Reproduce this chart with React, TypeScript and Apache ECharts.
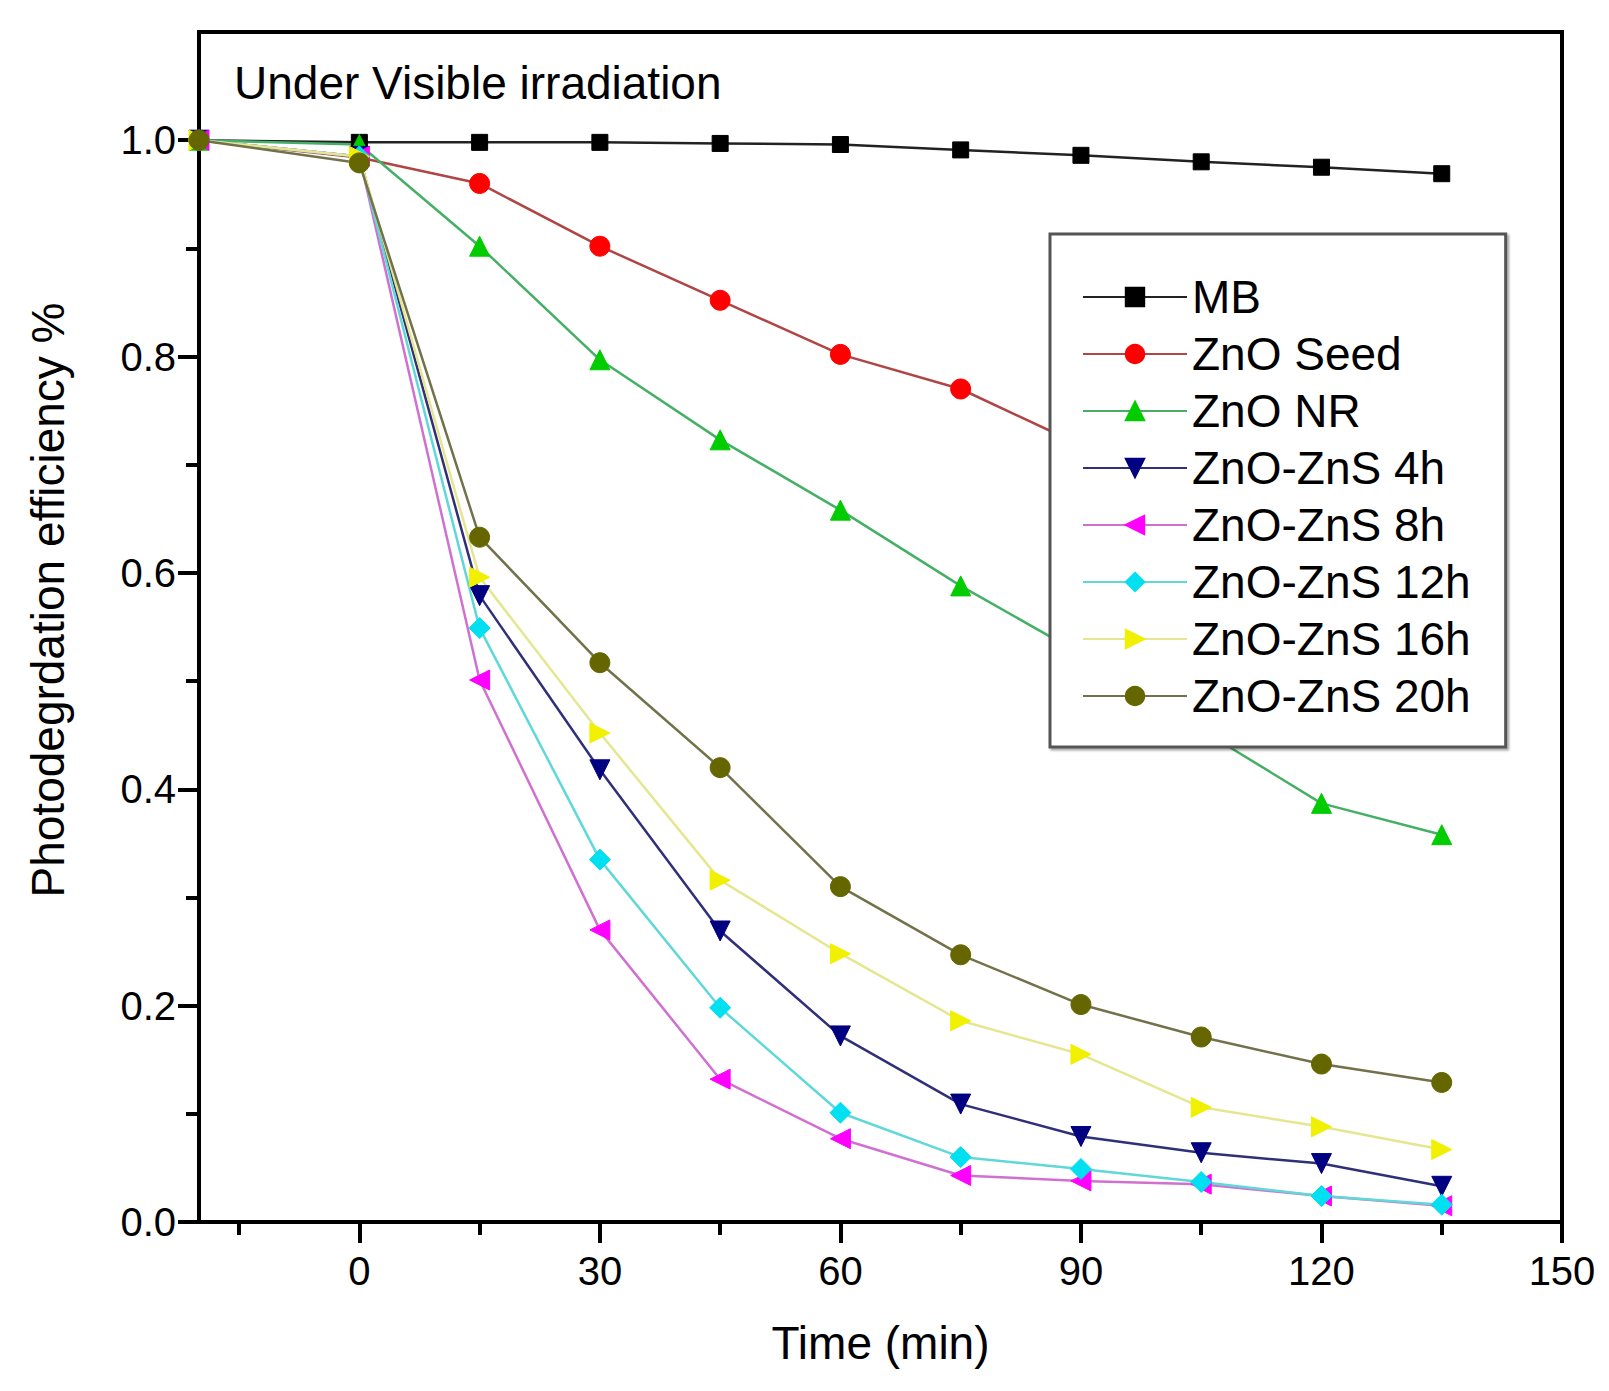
import React, { useEffect, useRef } from 'react';
import * as echarts from 'echarts';

const timeMin = [-20, 0, 15, 30, 45, 60, 75, 90, 105, 120, 135];

const mb = [1.0, 0.998, 0.998, 0.998, 0.997, 0.996, 0.991, 0.986, 0.98, 0.975, 0.969];
const znoSeed = [1.0, 0.984, 0.96, 0.902, 0.852, 0.802, 0.77, 0.718, 0.68, 0.645, 0.615];
const znoNR = [1.0, 0.996, 0.902, 0.797, 0.723, 0.658, 0.588, 0.525, 0.455, 0.387, 0.358];
const zns4h = [1.0, 0.985, 0.579, 0.418, 0.269, 0.172, 0.109, 0.079, 0.064, 0.054, 0.033];
const zns8h = [1.0, 0.985, 0.501, 0.27, 0.132, 0.077, 0.043, 0.038, 0.035, 0.024, 0.015];
const zns12h = [1.0, 0.985, 0.549, 0.335, 0.198, 0.101, 0.06, 0.049, 0.037, 0.024, 0.016];
const zns16h = [1.0, 0.985, 0.596, 0.452, 0.316, 0.248, 0.186, 0.155, 0.106, 0.088, 0.067];
const zns20h = [1.0, 0.979, 0.633, 0.517, 0.42, 0.31, 0.247, 0.201, 0.171, 0.146, 0.129];

const xMajorTicks = [0, 30, 60, 90, 120, 150];
const xMinorTicks = [-15, 15, 45, 75, 105, 135];
const yMajorTicks = [0, 0.2, 0.4, 0.6, 0.8, 1.0];
const yMinorTicks = [0.1, 0.3, 0.5, 0.7, 0.9];

const FONT = '"Liberation Sans", Arial, sans-serif';

const seriesDefs = [
  { name: 'MB', values: mb, symbol: 'rect', rotate: 0, size: 16, marker: '#000000', line: '#222222' },
  { name: 'ZnO Seed', values: znoSeed, symbol: 'circle', rotate: 0, size: 20, marker: '#ff0000', line: '#b04545' },
  { name: 'ZnO NR', values: znoNR, symbol: 'triangle', rotate: 0, size: 20, marker: '#00cc00', line: '#45b065' },
  { name: 'ZnO-ZnS 4h', values: zns4h, symbol: 'triangle', rotate: 180, size: 20, marker: '#000080', line: '#303078' },
  { name: 'ZnO-ZnS 8h', values: zns8h, symbol: 'triangle', rotate: 90, size: 20, marker: '#ff00ff', line: '#d070d0' },
  { name: 'ZnO-ZnS 12h', values: zns12h, symbol: 'diamond', rotate: 0, size: 21, marker: '#00e0f0', line: '#60d8d8' },
  { name: 'ZnO-ZnS 16h', values: zns16h, symbol: 'triangle', rotate: -90, size: 20, marker: '#f0f000', line: '#e6e690' },
  { name: 'ZnO-ZnS 20h', values: zns20h, symbol: 'circle', rotate: 0, size: 20, marker: '#666600', line: '#72724a' },
];

const App: React.FC = () => {
  const chartRef = useRef<HTMLDivElement>(null);

  useEffect(() => {
    document.body.style.margin = '0';
    if (!chartRef.current) return;

    const chart = echarts.init(chartRef.current, null, { renderer: 'svg' });

    const axisLine = { show: true, onZero: false, lineStyle: { color: '#000', width: 4 } };

    const option = {
      animation: false,
      backgroundColor: '#fff',
      grid: {
        left: 199,
        right: 47,
        top: 32,
        bottom: 169,
        show: true,
        borderColor: '#000',
        borderWidth: 4,
        backgroundColor: 'transparent',
      },
      graphic: [
        {
          type: 'text',
          x: 234,
          y: 83,
          style: {
            text: 'Under Visible irradiation',
            fontSize: 46,
            fontFamily: FONT,
            fill: '#000',
            verticalAlign: 'middle',
          },
        },
        {
          type: 'text',
          x: 48,
          y: 600,
          rotation: Math.PI / 2,
          style: {
            text: 'Photodegrdation efficiency %',
            fontSize: 46,
            fontFamily: FONT,
            fill: '#000',
            align: 'center',
            verticalAlign: 'middle',
          },
        },
      ],
      legend: {
        orient: 'vertical',
        left: 1050,
        top: 234,
        padding: [40, 35, 28, 32],
        itemGap: 11,
        itemWidth: 104,
        itemHeight: 23,
        backgroundColor: '#fff',
        borderColor: '#555',
        borderWidth: 3,
        shadowColor: 'rgba(0,0,0,0.35)',
        shadowBlur: 2,
        shadowOffsetX: 2,
        shadowOffsetY: 2,
        z: 10,
        textStyle: { fontSize: 46, lineHeight: 46, fontFamily: FONT, color: '#000' },
        data: seriesDefs.map((s) => s.name),
      },
      xAxis: [
        {
          type: 'value',
          min: -20,
          max: 150,
          position: 'bottom',
          name: 'Time (min)',
          nameLocation: 'middle',
          nameGap: 98,
          nameTextStyle: { fontSize: 46, fontFamily: FONT, color: '#000' },
          axisLine,
          axisTick: { show: true, customValues: xMajorTicks, length: 21, lineStyle: { color: '#000', width: 4 } },
          axisLabel: { customValues: xMajorTicks, fontSize: 40, fontFamily: FONT, color: '#000', margin: 29 },
          splitLine: { show: false },
        },
        {
          type: 'value',
          min: -20,
          max: 150,
          position: 'bottom',
          axisLine: { show: false, onZero: false },
          axisTick: { show: true, customValues: xMinorTicks, length: 13, lineStyle: { color: '#000', width: 4 } },
          axisLabel: { show: false },
          splitLine: { show: false },
        },
      ],
      yAxis: [
        {
          type: 'value',
          min: 0,
          max: 1.1,
          position: 'left',
          axisLine,
          axisTick: { show: true, customValues: yMajorTicks, length: 21, lineStyle: { color: '#000', width: 4 } },
          axisLabel: {
            customValues: yMajorTicks,
            fontSize: 40,
            fontFamily: FONT,
            color: '#000',
            margin: 23,
            formatter: (v: number) => v.toFixed(1),
          },
          splitLine: { show: false },
        },
        {
          type: 'value',
          min: 0,
          max: 1.1,
          position: 'left',
          axisLine: { show: false, onZero: false },
          axisTick: { show: true, customValues: yMinorTicks, length: 13, lineStyle: { color: '#000', width: 4 } },
          axisLabel: { show: false },
          splitLine: { show: false },
        },
      ],
      series: seriesDefs.map((s) => ({
        name: s.name,
        type: 'line',
        xAxisIndex: 0,
        yAxisIndex: 0,
        data: timeMin.map((t, i) => [t, s.values[i]]),
        symbol: s.symbol,
        symbolSize: s.size,
        symbolRotate: s.rotate,
        showAllSymbol: true,
        lineStyle: { color: s.line, width: 2.5 },
        itemStyle: { color: s.marker, borderColor: s.marker, borderWidth: 1 },
        emphasis: { disabled: true },
      })),
    };

    chart.setOption(option);

    return () => {
      chart.dispose();
    };
  }, []);

  return <div ref={chartRef} style={{ width: 1609, height: 1391 }} />;
};

export default App;
